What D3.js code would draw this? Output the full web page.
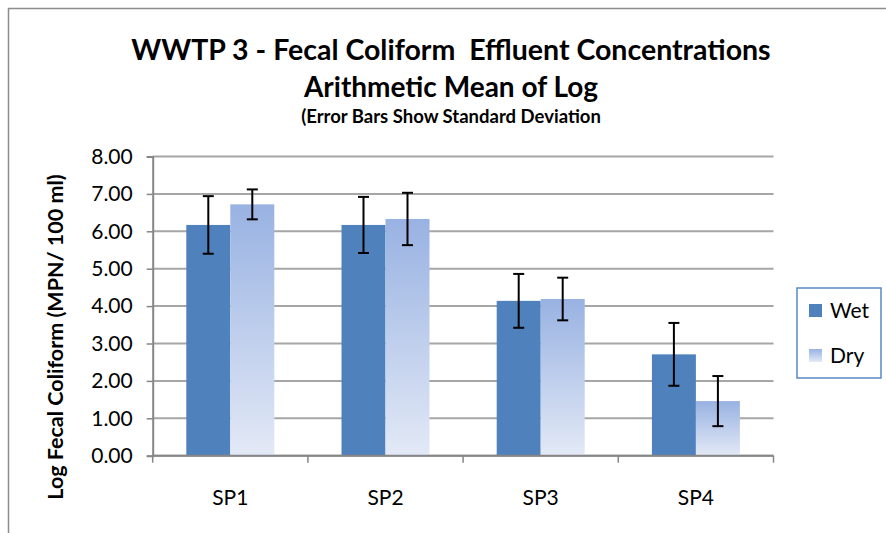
<!DOCTYPE html>
<html>
<head>
<meta charset="utf-8">
<script src="https://cdn.jsdelivr.net/npm/d3@7"></script>
<style>
  body { margin: 0; background: #fff; }
  text { font-family: Lato, "Open Sans", sans-serif; fill: #000; }
</style>
</head>
<body>
<script>
var width = 886,
    height = 533;

var categories = ["SP1", "SP2", "SP3", "SP4"];
var seriesNames = ["Wet", "Dry"];
var wetMean = [6.17, 6.17, 4.14, 2.71];
var wetSD = [0.77, 0.75, 0.72, 0.84];
var dryMean = [6.72, 6.33, 4.19, 1.46];
var drySD = [0.40, 0.70, 0.57, 0.67];
var yTicks = [0, 1, 2, 3, 4, 5, 6, 7, 8];

var margin = {left: 152.7, right: 886 - 773.5, top: 156.5, bottom: 533 - 455.7};

var svg = d3.select("body").append("svg")
    .attr("width", width)
    .attr("height", height);

// gradient for the dry bars
var defs = svg.append("defs");
var grad = defs.append("linearGradient")
    .attr("id", "dryGrad")
    .attr("x1", 0).attr("y1", 0).attr("x2", 0).attr("y2", 1);
grad.append("stop").attr("offset", "0%").attr("stop-color", "#98b2e2");
grad.append("stop").attr("offset", "100%").attr("stop-color", "#e3e9f6");

// chart frame
svg.append("rect")
    .attr("x", 8.5)
    .attr("y", 8.5)
    .attr("width", 1000)
    .attr("height", 1000)
    .style("fill", "none")
    .style("stroke", "#8c8c8c")
    .style("stroke-width", 1.5);

var x0 = d3.scaleBand()
    .domain(categories)
    .range([margin.left, width - margin.right])
    .paddingInner(0.433)
    .paddingOuter(0.2165);

var x1 = d3.scaleBand()
    .domain(seriesNames)
    .range([0, x0.bandwidth()]);

var y = d3.scaleLinear()
    .domain([0, 8])
    .range([height - margin.bottom, margin.top]);

var color = d3.scaleOrdinal()
    .domain(seriesNames)
    .range(["#4f81bd", "url(#dryGrad)"]);

// gridlines
svg.append("g").selectAll("line")
    .data(yTicks)
    .enter().append("line")
    .attr("x1", margin.left)
    .attr("x2", width - margin.right)
    .attr("y1", function(d) { return y(d); })
    .attr("y2", function(d) { return y(d); })
    .style("stroke", "#a6a6a6")
    .style("stroke-width", 2);

var rows = categories.map(function(c, i) {
    return {cat: c, values: [
        {name: "Wet", mean: wetMean[i], sd: wetSD[i]},
        {name: "Dry", mean: dryMean[i], sd: drySD[i]}
    ]};
});

var groups = svg.selectAll(".grp")
    .data(rows)
    .enter().append("g")
    .attr("class", "grp")
    .attr("transform", function(d) { return "translate(" + x0(d.cat) + ",0)"; });

groups.selectAll("rect")
    .data(function(d) { return d.values; })
    .enter().append("rect")
    .attr("x", function(d) { return x1(d.name); })
    .attr("width", x1.bandwidth())
    .attr("y", function(d) { return y(d.mean); })
    .attr("height", function(d) { return y(0) - y(d.mean); })
    .style("fill", function(d) { return color(d.name); });

// error bars
var capW = 11;
var err = groups.selectAll(".err")
    .data(function(d) { return d.values; })
    .enter().append("g")
    .attr("class", "err")
    .style("stroke", "#000")
    .style("stroke-width", 2);
err.append("line")
    .attr("x1", function(d) { return x1(d.name) + x1.bandwidth() / 2; })
    .attr("x2", function(d) { return x1(d.name) + x1.bandwidth() / 2; })
    .attr("y1", function(d) { return y(d.mean + d.sd); })
    .attr("y2", function(d) { return y(d.mean - d.sd); });
err.append("line")
    .attr("x1", function(d) { return x1(d.name) + x1.bandwidth() / 2 - capW / 2; })
    .attr("x2", function(d) { return x1(d.name) + x1.bandwidth() / 2 + capW / 2; })
    .attr("y1", function(d) { return y(d.mean + d.sd); })
    .attr("y2", function(d) { return y(d.mean + d.sd); });
err.append("line")
    .attr("x1", function(d) { return x1(d.name) + x1.bandwidth() / 2 - capW / 2; })
    .attr("x2", function(d) { return x1(d.name) + x1.bandwidth() / 2 + capW / 2; })
    .attr("y1", function(d) { return y(d.mean - d.sd); })
    .attr("y2", function(d) { return y(d.mean - d.sd); });

// y axis
var yAxis = svg.append("g")
    .attr("transform", "translate(" + margin.left + ",0)")
    .call(d3.axisLeft(y).tickValues(yTicks).tickSize(6).tickPadding(14)
        .tickFormat(d3.format(".2f")));
yAxis.select(".domain").style("stroke", "#868686").style("stroke-width", 2);
yAxis.selectAll(".tick line").style("stroke", "#868686").style("stroke-width", 1.5);
yAxis.selectAll(".tick text")
    .style("font-size", "21px")
    .style("font-family", "Lato, sans-serif")
    .attr("fill", "#000");

// x axis with ticks between categories
var step = x0.step();
var xAxis = svg.append("g")
    .attr("transform", "translate(0," + y(0) + ")");
xAxis.append("line")
    .attr("x1", margin.left)
    .attr("x2", width - margin.right)
    .style("stroke", "#868686")
    .style("stroke-width", 2);
xAxis.selectAll(".sep")
    .data(d3.range(categories.length + 1))
    .enter().append("line")
    .attr("x1", function(i) { return margin.left + i * step; })
    .attr("x2", function(i) { return margin.left + i * step; })
    .attr("y1", 0)
    .attr("y2", 7)
    .style("stroke", "#868686")
    .style("stroke-width", 1.5);
xAxis.selectAll(".lbl")
    .data(categories)
    .enter().append("text")
    .attr("x", function(d) { return x0(d) + x0.bandwidth() / 2; })
    .attr("y", 49)
    .attr("text-anchor", "middle")
    .style("font-size", "21px")
    .text(function(d) { return d; });

// y axis title
svg.append("text")
    .attr("transform", "translate(63,337) rotate(-90)")
    .attr("text-anchor", "middle")
    .style("font-size", "21.5px")
    .style("font-weight", "bold")
    .text("Log Fecal Coliform (MPN/ 100 ml)");

// titles
var titles = [
    {t: "WWTP 3 - Fecal Coliform  Effluent Concentrations", y: 60, size: 28.5},
    {t: "Arithmetic Mean of Log", y: 97, size: 28},
    {t: "(Error Bars Show Standard Deviation", y: 123, size: 18.5}
];
svg.selectAll(".title")
    .data(titles)
    .enter().append("text")
    .attr("class", "title")
    .attr("x", 451)
    .attr("y", function(d) { return d.y; })
    .attr("text-anchor", "middle")
    .style("font-size", function(d) { return d.size + "px"; })
    .style("font-weight", "bold")
    .style("white-space", "pre")
    .text(function(d) { return d.t; });

// legend
var legend = svg.append("g").attr("transform", "translate(797,288)");
legend.append("rect")
    .attr("width", 84)
    .attr("height", 90)
    .style("fill", "#fff")
    .style("stroke", "#5b88c2")
    .style("stroke-width", 1.5);
var li = legend.selectAll(".li")
    .data(seriesNames)
    .enter().append("g")
    .attr("transform", function(d, i) { return "translate(12," + (16 + i * 45) + ")"; });
li.append("rect")
    .attr("width", 13)
    .attr("height", 13)
    .style("fill", function(d) { return color(d); });
li.append("text")
    .attr("x", 21)
    .attr("y", 14)
    .style("font-size", "21px")
    .text(function(d) { return d; });
</script>
</body>
</html>
